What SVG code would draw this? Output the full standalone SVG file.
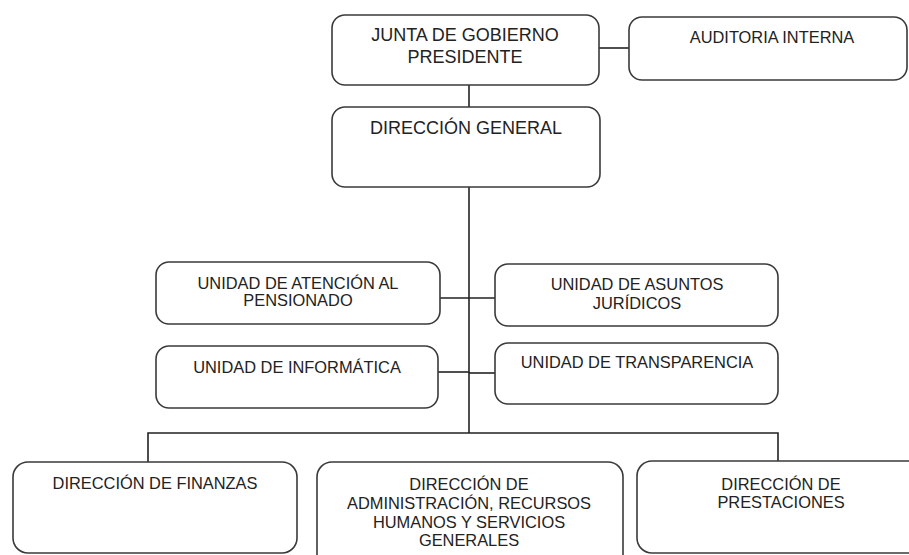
<svg xmlns="http://www.w3.org/2000/svg" width="909" height="555" viewBox="0 0 909 555">
<style>
.box{fill:#fff;stroke:#3a3a3a;stroke-width:1.6}
.ln{stroke:#222;stroke-width:1.6;fill:none}
text{font-family:"Liberation Sans",Arial,sans-serif;fill:#222;text-anchor:middle;dominant-baseline:central}
.big{font-size:18px}
.sm{font-size:16.4px}
</style>
<rect width="909" height="555" fill="#fff"/>
<g id="connectors">
<line class="ln" x1="469" y1="85" x2="469" y2="107"/>
<line class="ln" x1="599" y1="48" x2="629" y2="48"/>
<line class="ln" x1="469" y1="187" x2="469" y2="433"/>
<line class="ln" x1="440" y1="298" x2="495" y2="298"/>
<line class="ln" x1="438" y1="372" x2="469" y2="372"/>
<line class="ln" x1="469" y1="373" x2="495" y2="373"/>
<polyline class="ln" points="148,462 148,433 778,433 778,461"/>
</g>
<g id="junta">
<rect class="box" x="332" y="15" width="267" height="70" rx="13"/>
<text class="big" x="465" y="35">JUNTA DE GOBIERNO</text>
<text class="big" x="465" y="57">PRESIDENTE</text>
</g>
<g id="auditoria">
<rect class="box" x="629" y="17" width="278" height="63" rx="13"/>
<text class="sm" x="772" y="37">AUDITORIA INTERNA</text>
</g>
<g id="direccion-general">
<rect class="box" x="332" y="107" width="268" height="80" rx="13"/>
<text class="big" x="466" y="128">DIRECCIÓN GENERAL</text>
</g>
<g id="atencion">
<rect class="box" x="156" y="262" width="284" height="62" rx="13"/>
<text class="sm" x="298" y="283">UNIDAD DE ATENCIÓN AL</text>
<text class="sm" x="298" y="300">PENSIONADO</text>
</g>
<g id="asuntos">
<rect class="box" x="495" y="264" width="283" height="62" rx="13"/>
<text class="sm" x="637" y="284">UNIDAD DE ASUNTOS</text>
<text class="sm" x="637" y="303">JURÍDICOS</text>
</g>
<g id="informatica">
<rect class="box" x="156" y="346" width="282" height="62" rx="13"/>
<text class="sm" x="297" y="367">UNIDAD DE INFORMÁTICA</text>
</g>
<g id="transparencia">
<rect class="box" x="495" y="343" width="283" height="61" rx="13"/>
<text class="sm" x="637" y="362">UNIDAD DE TRANSPARENCIA</text>
</g>
<g id="finanzas">
<rect class="box" x="13" y="462" width="284" height="91" rx="15"/>
<text class="sm" x="155" y="483">DIRECCIÓN DE FINANZAS</text>
</g>
<g id="administracion">
<rect class="box" x="317" y="462" width="306" height="110" rx="15"/>
<text class="sm" x="469" y="484">DIRECCIÓN DE</text>
<text class="sm" x="469" y="503">ADMINISTRACIÓN, RECURSOS</text>
<text class="sm" x="469" y="522">HUMANOS Y SERVICIOS</text>
<text class="sm" x="469" y="540">GENERALES</text>
</g>
<g id="prestaciones">
<rect class="box" x="637" y="461" width="290" height="92" rx="15"/>
<text class="sm" x="781" y="484">DIRECCIÓN DE</text>
<text class="sm" x="781" y="502">PRESTACIONES</text>
</g>
</svg>
